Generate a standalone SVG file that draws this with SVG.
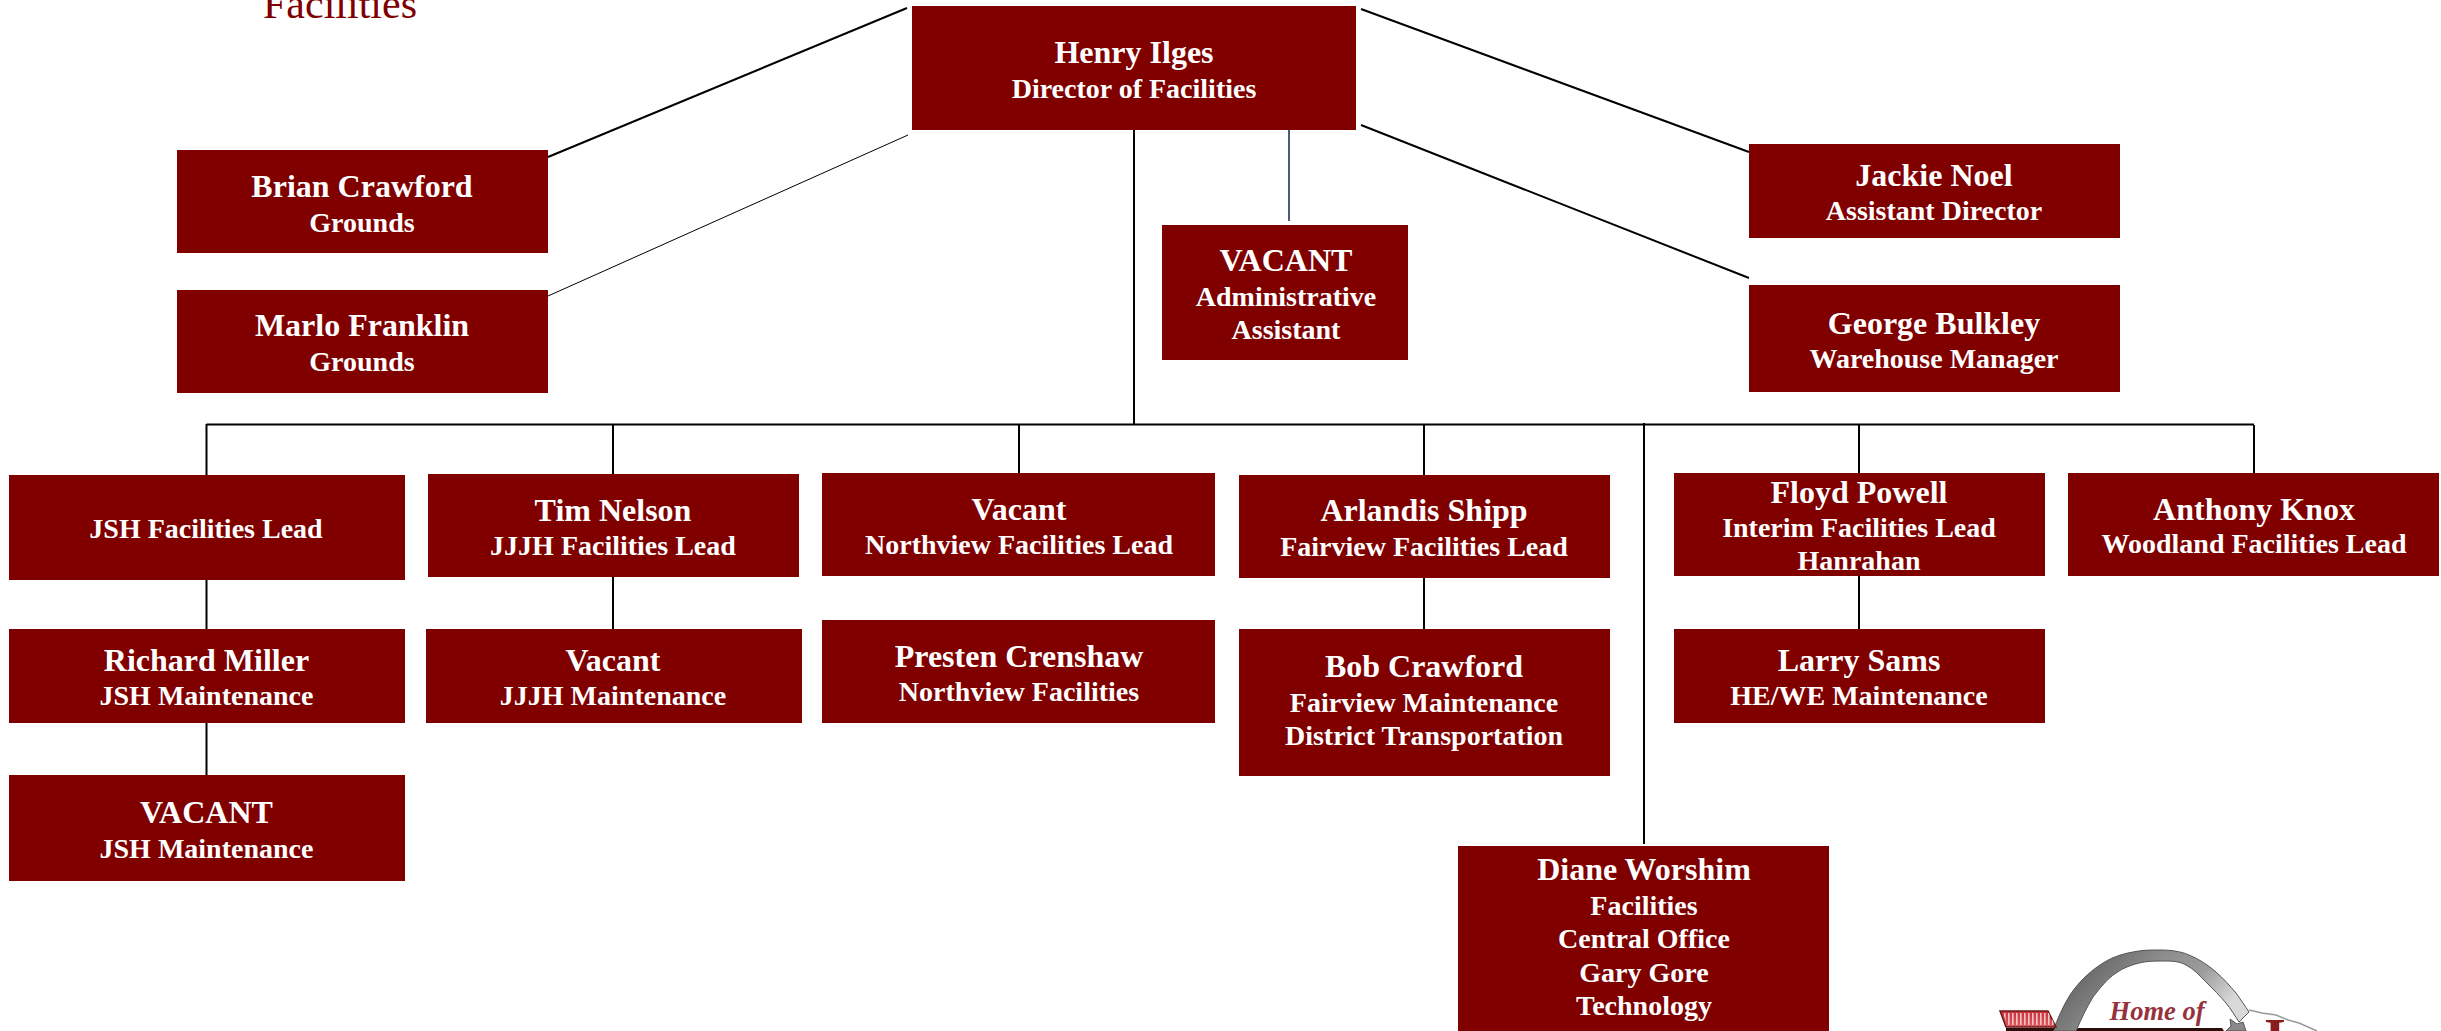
<svg xmlns="http://www.w3.org/2000/svg" width="2441" height="1031" viewBox="0 0 2441 1031">
<defs>
<linearGradient id="archG" x1="0" y1="0" x2="1" y2="0.4"><stop offset="0" stop-color="#c4c4c4"/><stop offset="0.2" stop-color="#666"/><stop offset="0.5" stop-color="#8c8c8c"/><stop offset="0.75" stop-color="#9c9c9c"/><stop offset="1" stop-color="#d8d8d8"/></linearGradient>
<linearGradient id="featherG" x1="0" y1="0" x2="0" y2="1"><stop offset="0" stop-color="#c9303c"/><stop offset="1" stop-color="#e25a60"/></linearGradient>
<pattern id="stripes" width="4" height="4" patternUnits="userSpaceOnUse"><rect width="1.600" height="4" fill="#f2c4c4"/></pattern>
</defs>
<style>
.box{fill:#800000}
.n,.s{font-family:"Liberation Serif","Times New Roman",serif;font-weight:700;fill:#fff;text-anchor:middle}
.n{font-size:32px}
.s{font-size:28px}
.c{stroke:#000;stroke-width:2;fill:none}
.t{stroke:#000;stroke-width:1;fill:none}
</style>
<rect width="2441" height="1031" fill="#fff"/>
<text x="340" y="18" text-anchor="middle" font-family="'Liberation Serif','Times New Roman',serif" font-size="42" fill="#800000">Facilities</text>
<g id="connectors">
<path class="c" d="M548 157L907 8"/>
<path class="t" d="M548 296L908 135"/>
<path class="c" d="M1361 9L1749 152"/>
<path class="c" d="M1361 125L1749 278"/>
<path class="c" d="M1134 130V424"/>
<path d="M1289 130V221" stroke="#4a5a78" stroke-width="2" fill="none"/>
<path class="c" d="M206.500 424.500H2254"/>
<path class="c" d="M206.500 424V475M613 425V474M1019 425V473M1424 425V475M1644 423V844M1859 425V473M2254 425V473"/>
<path class="c" d="M206.500 580V629M206.500 723V775M613 577V629M1424 578V629M1859 576V629"/>
</g>
<g id="henry"><rect class="box" x="912" y="6" width="444" height="124"/><text class="n" x="1134" y="63">Henry Ilges</text><text class="s" x="1134" y="98">Director of Facilities</text></g>
<g id="brian"><rect class="box" x="177" y="150" width="371" height="103"/><text class="n" x="362" y="197">Brian Crawford</text><text class="s" x="362" y="232">Grounds</text></g>
<g id="marlo"><rect class="box" x="177" y="290" width="371" height="103"/><text class="n" x="362" y="336">Marlo Franklin</text><text class="s" x="362" y="371">Grounds</text></g>
<g id="admin"><rect class="box" x="1162" y="225" width="246" height="135"/><text class="n" x="1286" y="271">VACANT</text><text class="s" x="1286" y="306">Administrative</text><text class="s" x="1286" y="339">Assistant</text></g>
<g id="jackie"><rect class="box" x="1749" y="144" width="371" height="94"/><text class="n" x="1934" y="186">Jackie Noel</text><text class="s" x="1934" y="220">Assistant Director</text></g>
<g id="george"><rect class="box" x="1749" y="285" width="371" height="107"/><text class="n" x="1934" y="334">George Bulkley</text><text class="s" x="1934" y="368">Warehouse Manager</text></g>
<g id="jsh-lead"><rect class="box" x="9" y="475" width="396" height="105"/><text class="s" x="206" y="538">JSH Facilities Lead</text></g>
<g id="richard"><rect class="box" x="9" y="629" width="396" height="94"/><text class="n" x="206.500" y="671">Richard Miller</text><text class="s" x="206.500" y="705">JSH Maintenance</text></g>
<g id="vacant-jsh"><rect class="box" x="9" y="775" width="396" height="106"/><text class="n" x="206.500" y="823">VACANT</text><text class="s" x="206.500" y="858">JSH Maintenance</text></g>
<g id="tim"><rect class="box" x="428" y="474" width="371" height="103"/><text class="n" x="613" y="521">Tim Nelson</text><text class="s" x="613" y="555">JJJH Facilities Lead</text></g>
<g id="vacant-jjjh"><rect class="box" x="426" y="629" width="376" height="94"/><text class="n" x="613" y="671">Vacant</text><text class="s" x="613" y="705">JJJH Maintenance</text></g>
<g id="vacant-nv"><rect class="box" x="822" y="473" width="393" height="103"/><text class="n" x="1019" y="520">Vacant</text><text class="s" x="1019" y="554">Northview Facilities Lead</text></g>
<g id="presten"><rect class="box" x="822" y="620" width="393" height="103"/><text class="n" x="1019" y="667">Presten Crenshaw</text><text class="s" x="1019" y="701">Northview Facilities</text></g>
<g id="arlandis"><rect class="box" x="1239" y="475" width="371" height="103"/><text class="n" x="1424" y="521">Arlandis Shipp</text><text class="s" x="1424" y="556">Fairview Facilities Lead</text></g>
<g id="bob"><rect class="box" x="1239" y="629" width="371" height="147"/><text class="n" x="1424" y="677">Bob Crawford</text><text class="s" x="1424" y="712">Fairview Maintenance</text><text class="s" x="1424" y="745">District Transportation</text></g>
<g id="floyd"><rect class="box" x="1674" y="473" width="371" height="103"/><text class="n" x="1859" y="503">Floyd Powell</text><text class="s" x="1859" y="537">Interim Facilities Lead</text><text class="s" x="1859" y="570">Hanrahan</text></g>
<g id="anthony"><rect class="box" x="2068" y="473" width="371" height="103"/><text class="n" x="2254" y="520">Anthony Knox</text><text class="s" x="2254" y="553">Woodland Facilities Lead</text></g>
<g id="larry"><rect class="box" x="1674" y="629" width="371" height="94"/><text class="n" x="1859" y="671">Larry Sams</text><text class="s" x="1859" y="705">HE/WE Maintenance</text></g>
<g id="diane"><rect class="box" x="1458" y="846" width="371" height="185"/><text class="n" x="1644" y="880">Diane Worshim</text><text class="s" x="1644" y="915">Facilities</text><text class="s" x="1644" y="948">Central Office</text><text class="s" x="1644" y="982">Gary Gore</text><text class="s" x="1644" y="1015">Technology</text></g>
<g id="logo">
<path d="M2053 1031C2058 1018 2063 1006 2070 995C2078 983 2088 973 2100 965C2110 958 2121 954 2133 952C2142 950 2150 950 2159 950C2170 950 2180 951 2189 955C2199 959 2208 965 2216 972C2224 979 2230 986 2236 993C2241 1000 2245 1006 2249 1012L2239 1022C2235 1016 2231 1009 2226 1003C2220 996 2213 989 2206 982C2200 976 2194 969 2186 965C2179 961 2171 961 2163 961C2155 961 2147 961 2139 963C2131 965 2123 968 2116 973C2107 979 2100 988 2093 997C2087 1007 2081 1019 2076 1031Z" fill="url(#archG)" stroke="#555" stroke-width="1"/>
<path d="M2000 1011H2048L2056 1027H2006Z" fill="url(#featherG)" stroke="#6a1a1a" stroke-width="1.500"/>
<path d="M2003 1013H2049L2055 1025H2007Z" fill="url(#stripes)"/>
<path d="M2006 1031V1028H2055L2053 1031ZM2076 1031L2078 1028H2222L2224 1031Z" fill="#2a0d06"/>
<text x="2157" y="1020" text-anchor="middle" font-family="'Liberation Serif',serif" font-weight="700" font-style="italic" font-size="26.500" fill="#96323c">Home of</text>
<path d="M2226 1031L2231 1026L2230 1019L2237 1024L2243 1022L2246 1031Z" fill="#8a8a8a" stroke="#555" stroke-width="1"/>
<path d="M2249 1010L2262 1013L2276 1015L2288 1020L2299 1023L2317 1031" fill="none" stroke="#999" stroke-width="1.500"/>
<text x="2275" y="1058" text-anchor="middle" font-family="'Liberation Serif',serif" font-weight="700" font-size="56" fill="#8a1c1c">I</text>
</g>
</svg>
